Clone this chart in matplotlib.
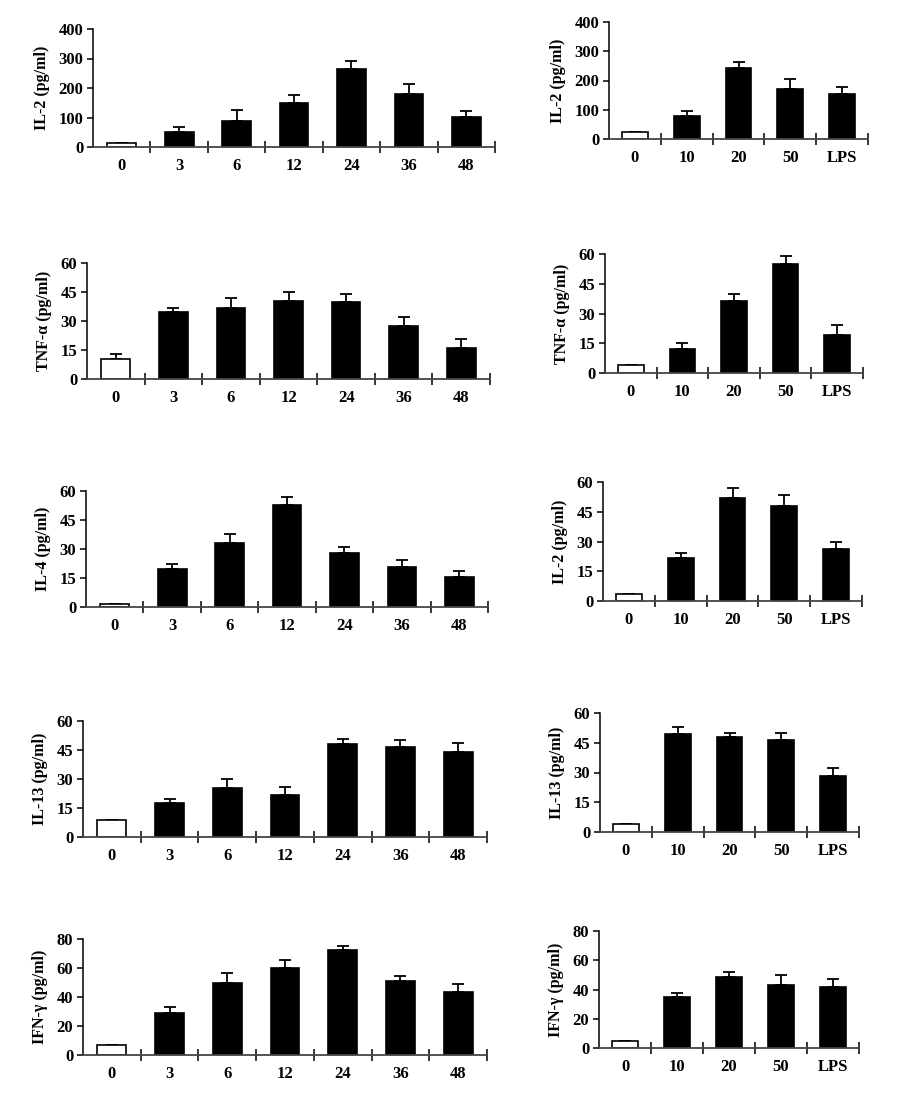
import matplotlib.pyplot as plt
import numpy as np

plt.rcParams["font.family"] = ["Liberation Serif", "DejaVu Serif"]
plt.rcParams["font.weight"] = "bold"

time_labels = ["0", "3", "6", "12", "24", "36", "48"]
dose_labels = ["0", "10", "20", "50", "LPS"]

il2_time = [15, 51, 87, 148, 265, 178, 102]
il2_time_err = [0, 17, 40, 28, 28, 34, 20]
il2_dose = [24, 80, 244, 172, 153]
il2_dose_err = [0, 16, 19, 34, 24]

tnf_time = [10.5, 34.5, 36.5, 40.5, 39.8, 27.5, 16]
tnf_time_err = [2.4, 2, 5.5, 4.5, 4.4, 4.4, 4.6]
tnf_dose = [3.9, 12.3, 36.4, 54.8, 19]
tnf_dose_err = [0, 2.9, 3.2, 4.2, 5]

il4_time = [1.5, 19.6, 33.3, 52.7, 27.8, 20.9, 15.5]
il4_time_err = [0, 2.7, 4.5, 4.3, 3.1, 3.2, 3.2]
il2b_dose = [3.7, 21.7, 51.9, 48.1, 26.4]
il2b_dose_err = [0, 2.5, 5.1, 5.2, 3.6]

il13_time = [8.6, 17.8, 25.6, 21.8, 48, 46.3, 44]
il13_time_err = [0, 2.1, 4.4, 4.3, 2.8, 3.7, 4.4]
il13_dose = [3.9, 49.6, 47.9, 46.2, 28.2]
il13_dose_err = [0, 3.3, 2, 3.7, 4.2]

ifn_time = [7.1, 29, 49.7, 60, 72.2, 50.8, 43.4]
ifn_time_err = [0, 4.1, 6.9, 5.7, 2.7, 3.9, 5.8]
ifn_dose = [4.5, 35.1, 48.3, 43.1, 42]
ifn_dose_err = [0, 2.8, 3.9, 6.8, 4.9]

W, H = 902, 1094

# (label, values, errors, categories, yticks, pixel box left, right, top, bottom)
panels = [
    ("IL-2 (pg/ml)", il2_time, il2_time_err, time_labels, [0, 100, 200, 300, 400], (93, 495, 29, 147)),
    ("IL-2 (pg/ml)", il2_dose, il2_dose_err, dose_labels, [0, 100, 200, 300, 400], (609, 868, 22, 139)),
    ("TNF-α (pg/ml)", tnf_time, tnf_time_err, time_labels, [0, 15, 30, 45, 60], (87, 490, 263, 379)),
    ("TNF-α (pg/ml)", tnf_dose, tnf_dose_err, dose_labels, [0, 15, 30, 45, 60], (605, 863, 254, 373)),
    ("IL-4 (pg/ml)", il4_time, il4_time_err, time_labels, [0, 15, 30, 45, 60], (86, 488, 491, 607)),
    ("IL-2 (pg/ml)", il2b_dose, il2b_dose_err, dose_labels, [0, 15, 30, 45, 60], (603, 862, 482, 601)),
    ("IL-13 (pg/ml)", il13_time, il13_time_err, time_labels, [0, 15, 30, 45, 60], (83, 487, 721, 837)),
    ("IL-13 (pg/ml)", il13_dose, il13_dose_err, dose_labels, [0, 15, 30, 45, 60], (600, 859, 713, 832)),
    ("IFN-γ (pg/ml)", ifn_time, ifn_time_err, time_labels, [0, 20, 40, 60, 80], (83, 487, 939, 1055)),
    ("IFN-γ (pg/ml)", ifn_dose, ifn_dose_err, dose_labels, [0, 20, 40, 60, 80], (599, 859, 931, 1048)),
]

fig = plt.figure(figsize=(W / 100, H / 100), dpi=100)

for label, vals, errs, cats, yticks, (l, r, t, b) in panels:
    ax = fig.add_axes([l / W, 1 - b / H, (r - l) / W, (b - t) / H])
    x = np.arange(len(cats))
    colors = ["white"] + ["black"] * (len(cats) - 1)
    ax.errorbar(x, vals, yerr=[np.zeros(len(errs)), errs], fmt="none",
                ecolor="black", elinewidth=1.3, capsize=4.5, capthick=1.3, zorder=1)
    ax.bar(x, vals, width=0.5, color=colors, edgecolor="black", linewidth=1.2, zorder=2)

    ax.set_xlim(-0.5, len(cats) - 0.5)
    ax.set_ylim(0, yticks[-1])
    ax.set_yticks(yticks)
    ax.set_xticks(x)
    ax.set_xticklabels(cats)
    ax.set_xticks(np.arange(0.5, len(cats)), minor=True)
    ax.tick_params(axis="x", which="major", length=0, pad=8, labelsize=12)
    ax.tick_params(axis="x", which="minor", direction="inout", length=8, width=1.1)
    ax.tick_params(axis="y", length=4, width=1.1, labelsize=12, pad=3)
    for lab in ax.get_xticklabels() + ax.get_yticklabels():
        lab.set_fontweight("bold")

    ax.spines["top"].set_visible(False)
    ax.spines["right"].set_visible(False)
    ax.spines["left"].set_linewidth(1.1)
    ax.spines["bottom"].set_linewidth(1.3)
    ax.spines["bottom"].set_color("#444444")

    ax.set_ylabel(label, fontsize=11.5, fontweight="bold", labelpad=6)

fig.savefig("out.png", dpi=100)
